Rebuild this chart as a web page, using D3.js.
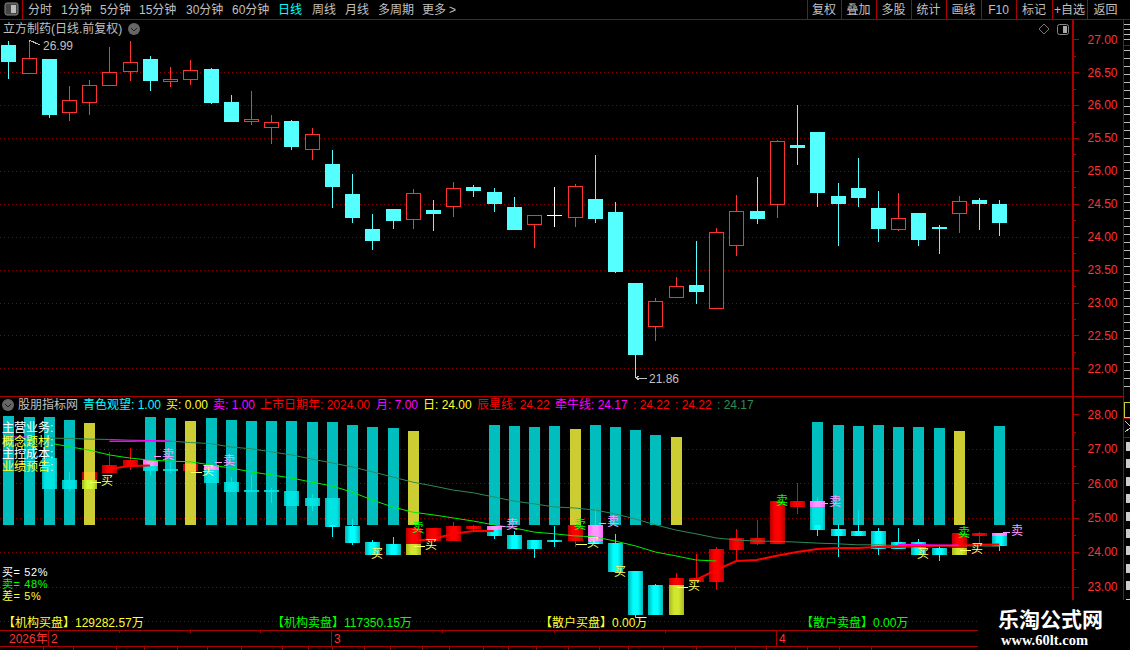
<!DOCTYPE html>
<html lang="zh">
<head>
<meta charset="UTF-8">
<title>立方制药</title>
<script src="https://d3js.org/d3.v7.min.js"></script>
<style>
    html, body { margin: 0; padding: 0; background: #000; overflow: hidden; }
    text { font-family: "Liberation Sans", "Noto Sans CJK SC", sans-serif; }
</style>
</head>
<body>
<script>
// upper panel candles, one entry per trading day
var open  = [26.91,26.49,26.70,25.90,26.04,26.30,26.52,26.70,26.36,26.39,26.55,26.05,25.76,25.67,25.76,25.34,25.10,24.65,24.12,24.42,24.27,24.41,24.46,24.76,24.68,24.45,24.20,24.33,24.30,24.57,24.38,23.30,22.65,23.09,23.27,22.91,23.88,24.39,24.49,25.39,25.59,24.62,24.74,24.44,24.11,24.36,24.15,24.36,24.56,24.50];
var high  = [26.97,26.99,26.70,26.29,26.38,26.88,26.97,26.75,26.58,26.69,26.56,26.15,26.21,25.85,25.77,25.65,25.32,24.95,24.35,24.42,24.72,24.56,24.83,24.79,24.74,24.60,24.33,24.76,24.80,25.24,24.53,23.30,23.07,23.39,23.93,24.13,24.63,24.91,25.47,26.00,25.59,24.82,25.20,24.69,24.66,24.36,24.18,24.62,24.59,24.56];
var low   = [26.40,26.49,25.81,25.76,25.85,26.30,26.37,26.22,26.28,26.31,26.02,25.74,25.70,25.41,25.32,25.17,24.44,24.21,23.80,24.11,24.12,24.09,24.30,24.60,24.38,24.10,23.83,24.15,24.15,24.21,23.45,21.86,22.42,23.07,22.98,22.91,23.70,24.19,24.28,25.09,24.45,23.86,24.45,23.92,24.08,23.86,23.74,24.06,24.10,24.01];
var close = [26.66,26.71,25.85,26.07,26.30,26.50,26.65,26.37,26.39,26.53,26.03,25.74,25.79,25.75,25.36,25.56,24.76,24.28,23.93,24.24,24.67,24.35,24.74,24.69,24.50,24.10,24.33,24.33,24.77,24.27,23.46,22.20,23.03,23.25,23.16,24.07,24.39,24.27,25.45,25.35,24.66,24.50,24.59,24.12,24.28,23.95,24.12,24.55,24.50,24.21];

// lower panel candles, body top / bottom, null where nothing shows
var subTop  = [null,null,26.73,26.09,26.33,26.53,26.67,26.67,26.41,26.56,26.53,26.03,25.80,25.80,25.77,25.57,25.57,24.76,24.29,24.24,24.70,24.70,24.76,24.76,24.76,24.50,24.35,24.35,24.79,24.79,24.26,23.45,23.04,23.25,23.25,24.09,24.41,24.41,25.48,25.48,25.48,24.67,24.61,24.61,24.29,24.29,24.12,24.55,24.55,24.55];
var subBot  = [null,null,25.83,25.83,25.83,26.30,26.47,26.35,26.35,26.35,26.01,25.74,25.74,25.74,25.34,25.34,24.73,24.26,23.92,23.92,23.92,24.32,24.32,24.67,24.47,24.09,24.09,24.32,24.32,24.24,23.42,22.17,22.17,22.17,23.13,23.13,24.06,24.24,24.24,25.31,24.64,24.47,24.47,24.09,24.09,23.92,23.92,23.92,24.47,24.18];
var subHigh = [null,null,26.73,26.33,26.33,26.91,27.02,26.67,26.62,26.56,26.53,26.18,26.24,25.86,25.77,25.69,25.57,24.96,24.35,24.44,24.70,24.70,24.87,24.79,24.76,24.61,24.35,24.76,24.79,25.25,24.53,23.45,23.07,23.39,23.94,24.15,24.67,24.93,25.48,26.01,25.60,24.82,25.22,24.70,24.70,24.38,24.21,24.55,24.58,24.55];
var subLow  = [null,null,25.83,25.77,25.83,26.30,26.38,26.24,26.30,26.35,26.01,25.74,25.74,25.43,25.34,25.19,24.44,24.21,23.92,23.92,23.92,24.32,24.32,24.64,24.38,24.09,23.83,24.15,24.15,24.24,23.42,22.09,22.17,22.17,23.13,22.90,23.77,24.21,24.24,25.11,24.47,23.86,24.47,23.92,24.09,23.92,23.74,23.92,24.24,24.03];
var subUp   = [0,0,0,0,1,1,1,0,0,1,0,0,0,0,0,0,0,0,0,0,1,1,1,1,0,0,0,0,1,0,0,0,0,1,1,1,1,1,1,1,0,0,0,0,0,0,0,1,1,0];

// pink and yellow overlays on lower candles
var pinkIdx = [7,10,24,29,40,49];
var pinkTop = [26.67,26.53,24.76,24.79,25.48,24.55];
var pinkBot = [26.50,26.38,24.64,24.32,25.31,24.47];
var limeIdx = [4,20,33,47];
var limeTop = [26.09,24.24,23.04,24.12];
var limeBot = [25.83,23.92,22.17,23.92];

// the tall bars, all standing on the same base value
var barBase = 24.8;
var barIdx = [0,1,2,3,4,7,8,9,10,11,12,13,14,15,16,17,18,19,20,24,25,26,27,28,29,30,31,32,33,40,41,42,43,44,45,46,47,49];
var barTop = [27.95,27.92,27.92,27.83,27.75,27.92,27.89,27.81,27.89,27.83,27.81,27.81,27.81,27.78,27.78,27.69,27.63,27.60,27.52,27.69,27.66,27.63,27.66,27.57,27.69,27.63,27.54,27.40,27.34,27.78,27.69,27.66,27.69,27.63,27.63,27.60,27.52,27.66];
var barGold = [4,9,20,28,33,47];

// indicator lines, starting at day 2
var darkLine = [27.31,27.30,27.28,27.27,27.25,27.24,27.22,27.18,27.15,27.05,27.00,26.91,26.82,26.70,26.59,26.47,26.33,26.18,26.03,25.92,25.80,25.72,25.60,25.48,25.40,25.31,25.28,25.22,25.11,24.96,24.79,24.64,24.53,24.41,24.35,24.32,24.31,24.29,24.26,24.24,24.21,24.21,24.19,24.18,24.18,24.18,24.18,24.17];
var greenLine = [27.17,27.06,26.96,26.82,26.73,26.67,26.64,26.62,26.53,26.44,26.33,26.24,26.15,26.03,25.92,25.74,25.51,25.31,25.16,25.08,24.99,24.90,24.79,24.70,24.58,24.53,24.47,24.44,24.32,24.18,24.00,23.89,23.77,23.74];
var redIdxA = [5,6,7];
var redValA = [26.41,26.50,26.51];
var redIdxB = [20,21,22,23,24];
var redValB = [24.32,24.38,24.53,24.61,24.61];
var redIdxC = [34,35,36,37,38,39,40,41,42,43,44,45,46,47,48,49];
var redValC = [23.19,23.48,23.74,23.77,23.89,24.00,24.09,24.12,24.12,24.15,24.15,24.17,24.18,24.18,24.21,24.22];
var magIdxA = [0,1];
var magValA = [27.34,27.34];
var magIdxB = [5,6,7,8];
var magValB = [27.22,27.22,27.23,27.22];
var magIdxC = [44,45,46,47];
var magValC = [24.22,24.21,24.20,24.20];

// buy / sell marks
var sigIdx   = [4,7,9,10,18,20,20,24,28,28,29,30,33,38,40,45,47,47,49];
var sigKind  = ['buy','sell','buy','sell','buyLow','sellG','buy','sell','sellG','buy','sell','buyLow','buy','sellG','sell','buyLow','sellG','buy','sell'];
var sigPrice = [26.06,26.82,26.35,26.64,23.94,24.70,24.21,24.79,24.79,24.26,24.87,23.42,23.02,25.48,25.46,23.94,24.55,24.09,24.61];

var priceTicks = [27,26.5,26,25.5,25,24.5,24,23.5,23,22.5,22];
var priceMinor = [26.75,26.25,25.75,25.25,24.75,24.25,23.75,23.25,22.75,22.25];
var subTicks = [28,27,26,25,24,23];
var subMinor = [27.5,26.5,25.5,24.5,23.5];

var menuLeft = ['分时','1分钟','5分钟','15分钟','30分钟','60分钟','日线','周线','月线','多周期','更多'];
var menuRight = ['复权','叠加','多股','统计','画线','F10','标记','+自选','返回'];

var width = 1130, height = 650;
var RED = '#ff3232', DARK = '#aa0000', CYAN = '#55ffff', GRAY = '#c0c0c0', YEL = '#ffff33', MAG = '#ff33ff', GRN = '#00ff00';

var svg = d3.select('body').append('svg')
    .attr('width', width).attr('height', height)
    .style('display', 'block').style('background', '#000');

var defs = svg.append('defs');
function hGrad(id, edge, mid) {
    var g = defs.append('linearGradient').attr('id', id);
    g.append('stop').attr('offset', '0%').attr('stop-color', edge);
    g.append('stop').attr('offset', '35%').attr('stop-color', mid);
    g.append('stop').attr('offset', '65%').attr('stop-color', mid);
    g.append('stop').attr('offset', '100%').attr('stop-color', edge);
}
hGrad('gCyan', '#00b4b4', '#00ffff');
hGrad('gRed', '#b80000', '#ff0000');
hGrad('gPink', '#ff66ff', '#ff99ff');
hGrad('gLime', '#aacc22', '#ccff33');

var days = d3.range(open.length);
var x = d3.scalePoint().domain(days).range([8.3, 999.3]);
var y = d3.scaleLinear().domain([27, 22]).range([39.3, 368.3]);
var ySub = d3.scaleLinear().domain([28, 23]).range([414.3, 586.5]);
function px(i) { return Math.round(x(i)); }

function label(g, tx, ty, txt, color, size, anchor) {
    return g.append('text').attr('x', tx).attr('y', ty).attr('dy', '.36em')
        .attr('fill', color).attr('font-size', size || 12)
        .attr('text-anchor', anchor || 'start').text(txt);
}
function seg(g, x1, y1, x2, y2, color, w) {
    return g.append('line').attr('x1', x1).attr('y1', y1).attr('x2', x2).attr('y2', y2)
        .attr('stroke', color).attr('stroke-width', w || 1).attr('shape-rendering', 'crispEdges');
}

// dotted grid
var grid = svg.append('g');
grid.selectAll('.gu').data(priceTicks.slice(1)).enter().append('line')
    .attr('x1', 0).attr('x2', 1072).attr('y1', function(d) { return Math.round(y(d)) + .5; }).attr('y2', function(d) { return Math.round(y(d)) + .5; });
grid.selectAll('.gl').data(subTicks.slice(1).concat([22])).enter().append('line')
    .attr('x1', 0).attr('x2', 1072).attr('y1', function(d) { return Math.round(ySub(d)) + .5; }).attr('y2', function(d) { return Math.round(ySub(d)) + .5; });
grid.selectAll('line').attr('stroke', '#8c0000').attr('stroke-dasharray', '1 3').attr('shape-rendering', 'crispEdges');

// upper candles
var up = svg.append('g').attr('shape-rendering', 'crispEdges');
var candle = up.selectAll('g').data(days).enter().append('g');
function candleColor(i) {
    if (open[i] === close[i]) return '#ffffff';
    return close[i] > open[i] ? RED : CYAN;
}
candle.append('line')
    .attr('x1', function(i) { return px(i) + .5; }).attr('x2', function(i) { return px(i) + .5; })
    .attr('y1', function(i) { return y(high[i]); }).attr('y2', function(i) { return y(low[i]); })
    .attr('stroke', candleColor);
candle.append('rect')
    .attr('x', function(i) { return px(i) - 7; })
    .attr('y', function(i) { return y(Math.max(open[i], close[i])); })
    .attr('height', function(i) { return Math.max(1, y(Math.min(open[i], close[i])) - y(Math.max(open[i], close[i]))); })
    .attr('fill', function(i) { return close[i] > open[i] ? '#000' : candleColor(i); })
    .attr('stroke', function(i) { return close[i] > open[i] ? RED : 'none'; })
    .attr('transform', function(i) { return close[i] > open[i] ? 'translate(.5,.5)' : null; })
    .attr('width', function(i) { return close[i] > open[i] ? 14 : 15; });

// high and low flags
var flags = svg.append('g');
seg(flags, 29, 42, 31, 40, GRAY);
seg(flags, 29, 40, 40, 45, GRAY);
label(flags, 43, 46, '26.99', GRAY, 12);
seg(flags, 636, 378, 647, 378, GRAY);
seg(flags, 636, 378, 639, 376, GRAY);
seg(flags, 636, 378, 639, 380, GRAY);
label(flags, 649, 378.5, '21.86', GRAY, 12);

// lower candles
var sub = svg.append('g').attr('shape-rendering', 'crispEdges');
var subDays = days.filter(function(i) { return subTop[i] !== null; });
sub.selectAll('.w').data(subDays).enter().append('line')
    .attr('x1', function(i) { return px(i) + .5; }).attr('x2', function(i) { return px(i) + .5; })
    .attr('y1', function(i) { return ySub(subHigh[i]); }).attr('y2', function(i) { return ySub(subLow[i]); })
    .attr('stroke', function(i) { return subUp[i] ? '#ff0000' : '#00ffff'; });
sub.selectAll('.b').data(subDays).enter().append('rect')
    .attr('x', function(i) { return px(i) - 7; }).attr('width', 15)
    .attr('y', function(i) { return ySub(subTop[i]); })
    .attr('height', function(i) { return Math.max(2, ySub(subBot[i]) - ySub(subTop[i])); })
    .attr('fill', function(i) { return subUp[i] ? 'url(#gRed)' : 'url(#gCyan)'; });

// tall bars
svg.append('g').attr('shape-rendering', 'crispEdges')
    .selectAll('rect').data(barIdx).enter().append('rect')
    .attr('x', function(d) { return px(d) - 5; }).attr('width', 11)
    .attr('y', function(d, k) { return ySub(barTop[k]); })
    .attr('height', function(d, k) { return ySub(barBase) - ySub(barTop[k]); })
    .attr('fill', function(d) { return barGold.indexOf(d) >= 0 ? '#f0f03c' : '#00dfdf'; })
    .attr('fill-opacity', .85);

// overlays
var over = svg.append('g').attr('shape-rendering', 'crispEdges');
over.selectAll('.p').data(pinkIdx).enter().append('rect')
    .attr('x', function(d) { return px(d) - 7; }).attr('width', 15)
    .attr('y', function(d, k) { return ySub(pinkTop[k]); })
    .attr('height', function(d, k) { return ySub(pinkBot[k]) - ySub(pinkTop[k]); })
    .attr('fill', 'url(#gPink)');
over.selectAll('.l').data(limeIdx).enter().append('rect')
    .attr('x', function(d) { return px(d) - 7; }).attr('width', 15)
    .attr('y', function(d, k) { return ySub(limeTop[k]); })
    .attr('height', function(d, k) { return ySub(limeBot[k]) - ySub(limeTop[k]); })
    .attr('fill', 'url(#gLime)').attr('fill-opacity', .9);

// indicator lines
var lines = svg.append('g').attr('fill', 'none');
function drawLine(idx, vals, color, w) {
    var path = d3.line().x(function(d, k) { return x(idx[k]); }).y(function(d) { return ySub(d); });
    lines.append('path').attr('d', path(vals)).attr('stroke', color).attr('stroke-width', w);
}
var fromTwo = function(arr) { return arr.map(function(d, k) { return k + 2; }); };
drawLine(fromTwo(darkLine), darkLine, '#2e8b57', 1);
drawLine(fromTwo(greenLine), greenLine, '#00f000', 1);
drawLine(redIdxA, redValA, '#ff0000', 2);
drawLine(redIdxB, redValB, '#ff0000', 2);
drawLine(redIdxC, redValC, '#ff0000', 2);
drawLine(magIdxA, magValA, '#ff00ff', 1);
drawLine(magIdxB, magValB, '#ff00ff', 1.5);
drawLine(magIdxC, magValC, '#ff00ff', 1.5);

// buy and sell marks
var kinds = {
    buy:    { text: '买', color: '#ffff66', dx: 18, lead: [1, 12] },
    buyLow: { text: '买', color: '#ffff66', dx: 5,  lead: null },
    sell:   { text: '卖', color: '#ff99ff', dx: 18, lead: [4, 11] },
    sellG:  { text: '卖', color: '#00ff00', dx: 5,  lead: null }
};
var marks = svg.append('g');
sigIdx.forEach(function(i, k) {
    var kind = kinds[sigKind[k]];
    var sy = ySub(sigPrice[k]);
    if (kind.lead) seg(marks, px(i) + kind.lead[0], Math.round(sy) + 1, px(i) + kind.lead[1], Math.round(sy) + 1, kind.color);
    label(marks, px(i) + kind.dx, sy, kind.text, kind.color, 12, 'middle');
});

// left notes
var notes = svg.append('g');
label(notes, 2, 428, '主营业务:', '#ffffff', 12);
label(notes, 2, 441.5, '概念题材:', YEL, 12);
label(notes, 2, 453.5, '主控成本:', '#ffffff', 12);
label(notes, 2, 467, '业绩预告:', YEL, 12);
label(notes, 2, 572, '买= 52%', '#ffffff', 11).attr('letter-spacing', .6);
label(notes, 2, 584, '卖= 48%', GRN, 11).attr('letter-spacing', .6);
label(notes, 2, 596, '差= 5%', YEL, 11).attr('letter-spacing', .6);

// lower panel header
var head = svg.append('g');
label(head, 18, 405, '股朋指标网', GRAY, 12);
label(head, 83, 405, '青色观望: 1.00', '#00ffff', 12);
label(head, 166, 405, '买: 0.00', YEL, 12);
label(head, 213, 405, '卖: 1.00', '#ff00ff', 12);
label(head, 260, 405, '上市日期年: 2024.00', '#ff0000', 12);
label(head, 376, 405, '月: 7.00', '#ff00ff', 12);
label(head, 423, 405, '日: 24.00', YEL, 12);
label(head, 477, 405, '辰星线: 24.22', '#ff0000', 12);
label(head, 555, 405, '牵牛线: 24.17', '#ff00ff', 12);
label(head, 633, 405, ': 24.22', '#ff0000', 12);
label(head, 675, 405, ': 24.22', '#ff0000', 12);
label(head, 717, 405, ': 24.17', '#2e8b57', 12);

// bottom line of figures
var foot = svg.append('g');
label(foot, 3, 623, '【机构买盘】129282.57万', YEL, 12);
label(foot, 272, 623, '【机构卖盘】117350.15万', GRN, 12);
label(foot, 540, 623, '【散户买盘】0.00万', YEL, 12);
label(foot, 801, 623, '【散户卖盘】0.00万', GRN, 12);

// right axes, main and minor ticks
function drawAxis(scale, ticks, minor) {
    var g = svg.append('g').attr('transform', 'translate(1072.5,0)');
    g.call(d3.axisRight(scale).tickValues(ticks).tickSize(6).tickPadding(9).tickFormat(function(d) { return d.toFixed(2); }));
    g.select('.domain').remove();
    g.selectAll('line').attr('stroke', DARK).attr('shape-rendering', 'crispEdges');
    g.selectAll('text').attr('fill', RED).attr('font-size', 12).attr('font-family', '"Liberation Sans", sans-serif');
    var m = svg.append('g').attr('transform', 'translate(1072.5,0)');
    m.call(d3.axisRight(scale).tickValues(minor).tickSize(3).tickFormat(''));
    m.select('.domain').remove();
    m.selectAll('line').attr('stroke', DARK).attr('shape-rendering', 'crispEdges');
}
drawAxis(y, priceTicks, priceMinor);
drawAxis(ySub, subTicks, subMinor);

// frame
var frame = svg.append('g');
seg(frame, 0, 19.5, width, 19.5, DARK);
seg(frame, 0, 396.5, 1123, 396.5, DARK, 1);
seg(frame, 0, 630.5, width, 630.5, DARK);
seg(frame, 0, 646.5, width, 646.5, DARK);
seg(frame, 1072.5, 19, 1072.5, 600, DARK, 2);
seg(frame, 1123.5, 19, 1123.5, 600, DARK, 1);
seg(frame, 22.5, 0, 22.5, 19, DARK);
seg(frame, 1123, 45.5, width, 45.5, DARK);
seg(frame, 1123, 418.5, width, 418.5, DARK);
seg(frame, 1123, 437.5, width, 437.5, DARK);

// toolbar
var bar = svg.append('g');
var menuX = [28, 61, 100, 139, 186, 232, 278, 312, 345, 378, 422];
menuLeft.forEach(function(t, k) { label(bar, menuX[k], 9.5, t, t === '日线' ? '#00ffff' : GRAY, 12); });
label(bar, 449, 9.5, '>', GRAY, 12);
bar.append('rect').attr('x', 5).attr('y', 3).attr('width', 13).attr('height', 12).attr('rx', 2).attr('fill', '#444').attr('stroke', '#888');
bar.append('rect').attr('x', 11).attr('y', 5).attr('width', 5).attr('height', 8).attr('fill', '#bbb');
var sepX = [807, 841, 876, 911, 946, 981, 1016, 1052, 1087];
menuRight.forEach(function(t, k) {
    seg(bar, sepX[k] + .5, 0, sepX[k] + .5, 19, DARK);
    var right = k < 8 ? sepX[k + 1] : 1124;
    label(bar, (sepX[k] + right) / 2, 9.5, t, GRAY, 12, 'middle');
});

// title row
var title = svg.append('g');
label(title, 3, 29, '立方制药(日线.前复权)', GRAY, 12);
title.append('circle').attr('cx', 134).attr('cy', 29).attr('r', 6).attr('fill', '#666');
title.append('path').attr('d', 'M131 28 L134 31 L137 28').attr('stroke', '#222').attr('fill', 'none');
title.append('path').attr('d', 'M1044 24 L1049 29 L1044 34 L1039 29 Z').attr('stroke', '#777').attr('fill', 'none');
title.append('rect').attr('x', 1057.5).attr('y', 24.5).attr('width', 11).attr('height', 10).attr('rx', 2).attr('fill', 'none').attr('stroke', '#888');
title.append('rect').attr('x', 1063).attr('y', 26).attr('width', 4).attr('height', 7).attr('fill', '#aaa');
head.append('circle').attr('cx', 8).attr('cy', 405).attr('r', 6).attr('fill', '#666');
head.append('path').attr('d', 'M5 404 L8 407 L11 404').attr('stroke', '#222').attr('fill', 'none');

// date row
var dates = svg.append('g');
label(dates, 9, 638.5, '2026年', RED, 12);
var monthIdx = [2, 16, 38];
var monthTxt = ['2', '3', '4'];
monthIdx.forEach(function(i, k) {
    seg(dates, px(i) - .5, 631, px(i) - .5, 646, DARK);
    label(dates, px(i) + 2, 638.5, monthTxt[k], RED, 12);
});
[119, 190, 260, 442, 554, 665].forEach(function(t) { seg(dates, t + .5, 631, t + .5, 633, DARK); });
[43, 73, 116, 144, 177, 207, 241, 282, 308, 332, 364, 390, 422, 449, 483, 508, 536, 568, 599, 628, 663, 696, 735, 766, 807, 839, 871].forEach(function(t) {
    seg(dates, t + .5, 647, t + .5, 650, DARK);
});

// cut off column on the far right
var strip = svg.append('g');
seg(strip, 1127, 24, 1127, 44, '#bbb', 6).attr('stroke-dasharray', '1 4');
seg(strip, 1127, 50, 1127, 392, '#bbb', 6).attr('stroke-dasharray', '1 7');
strip.append('rect').attr('x', 1124.5).attr('y', 402.5).attr('width', 6).attr('height', 15).attr('fill', 'none').attr('stroke', '#cc3');
seg(strip, 1125, 421, 1130, 426, '#ccc');
seg(strip, 1125, 432, 1130, 428, '#ccc');
seg(strip, 1128, 442, 1128, 600, '#ccc', 5).attr('stroke-dasharray', '9 8.4');

// watermark on its own black patch
var mark = svg.append('g');
mark.append('rect').attr('x', 978).attr('y', 600).attr('width', 152).attr('height', 50).attr('fill', '#000');
label(mark, 998, 619, '乐淘公式网', '#ffffff', 21).attr('font-weight', 'bold').style('font-family', '"Noto Sans CJK SC"');
label(mark, 1001, 639.5, 'www.60lt.com', '#ffffff', 14.5).attr('font-weight', 'bold').style('font-family', '"Liberation Serif"');
</script>
</body>
</html>
